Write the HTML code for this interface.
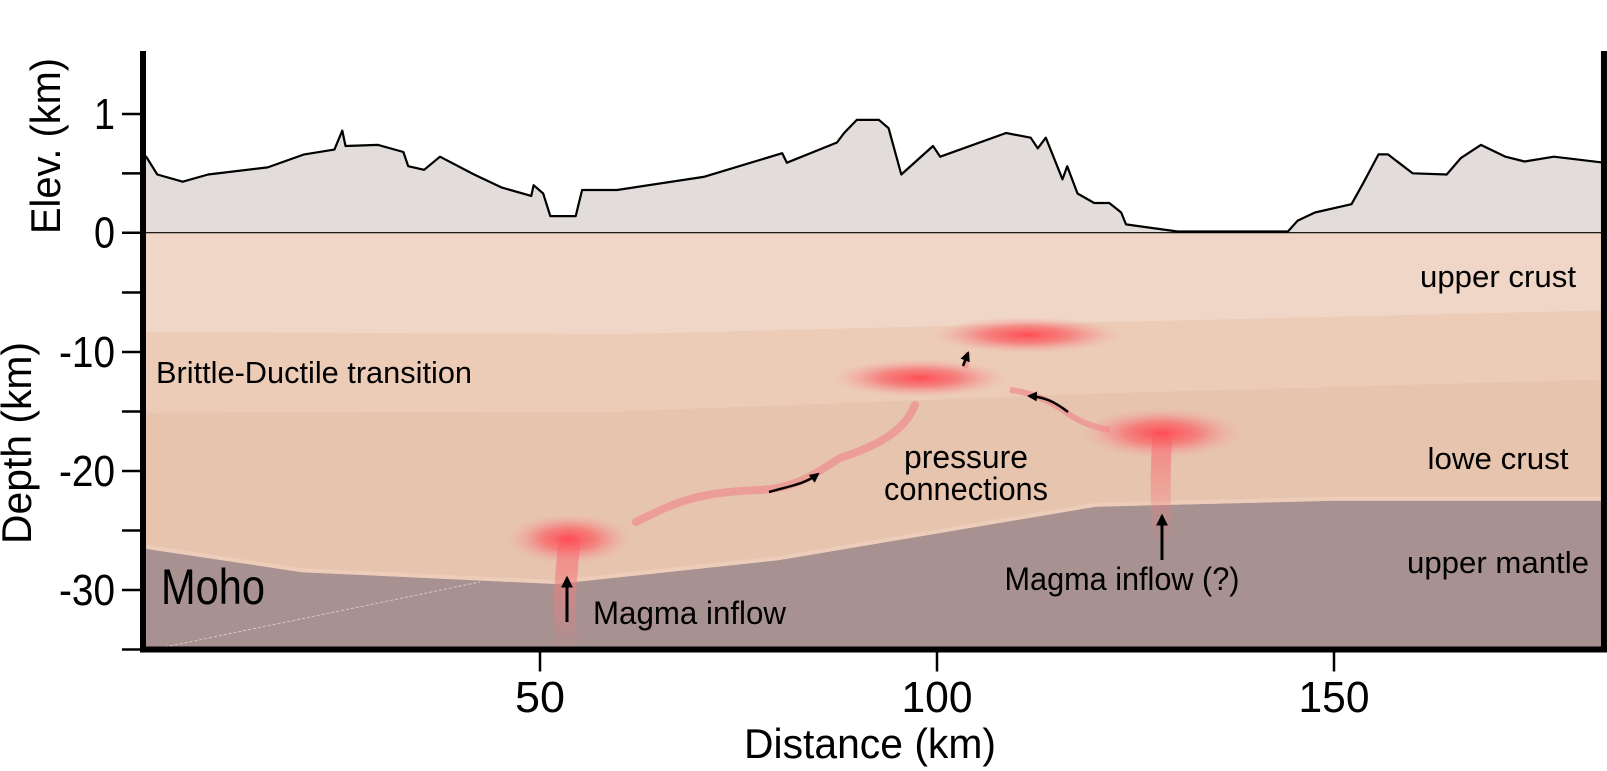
<!DOCTYPE html>
<html><head><meta charset="utf-8">
<style>
html,body{margin:0;padding:0;background:#fff;width:1607px;height:771px;overflow:hidden}
svg text{font-family:"Liberation Sans Narrow","Liberation Sans",sans-serif;fill:#000}
</style></head>
<body>
<svg id="chart" width="1607" height="771" viewBox="0 0 1607 771" xmlns="http://www.w3.org/2000/svg">
<defs>
<radialGradient id="blob" cx="50%" cy="50%" r="50%">
<stop offset="0" stop-color="#ff4d55" stop-opacity="1"/>
<stop offset="0.45" stop-color="#f86a6c" stop-opacity="0.75"/>
<stop offset="1" stop-color="#f4a0a0" stop-opacity="0"/>
</radialGradient>
<linearGradient id="stem" x1="0" y1="0" x2="0" y2="1">
<stop offset="0" stop-color="#f47c7c" stop-opacity="0.85"/>
<stop offset="1" stop-color="#f47c7c" stop-opacity="0.1"/>
</linearGradient>
<marker id="ah" viewBox="0 0 10 10" refX="8" refY="5" markerWidth="4" markerHeight="4" orient="auto"><path d="M0,0 L10,5 L0,10 z" fill="#000"/></marker>
</defs>
<g id="layers"></g>
<g id="elev"></g>
<g id="features"></g>
<g id="axes"></g>
</svg>
<script>
// Data
const distTicks = [50, 100, 150];
const elevTicks = [1, 0.5, 0];
const elevTickLabels = ["1", "", "0"];
const depthTicks = [-5, -10, -15, -20, -25, -30, -35];
const depthTickLabels = ["", "-10", "", "-20", "", "-30", ""];
const elevKm = [0,0.4,1.8,5.0,8.2,15.7,20.3,24.1,25.1,25.5,29.6,32.8,33.4,35.4,37.4,41.7,45.2,48.9,49.2,50.4,51.3,54.5,55.3,59.7,70.6,80.5,81.1,87.4,88.3,89.9,92.7,93.9,95.5,99.5,100.4,108.7,111.8,112.7,113.7,115.8,116.4,117.7,119.8,121.7,123.2,123.8,130.3,144.2,145.4,147.6,152.2,153.7,155.6,156.8,159.9,164.2,166.0,168.5,171.6,174.0,177.7,184];
const elevVal = [0.60,0.64,0.49,0.43,0.49,0.55,0.66,0.70,0.86,0.73,0.74,0.68,0.56,0.53,0.64,0.49,0.38,0.31,0.40,0.33,0.14,0.14,0.36,0.36,0.47,0.67,0.59,0.76,0.84,0.95,0.95,0.88,0.49,0.73,0.64,0.84,0.80,0.71,0.80,0.45,0.56,0.33,0.25,0.25,0.17,0.07,0.01,0.01,0.10,0.17,0.24,0.42,0.66,0.66,0.50,0.49,0.63,0.74,0.64,0.60,0.64,0.59];
const boundKm = [0, 60, 120, 184];
const upperCrustBase = [-8.3, -8.5, -7.5, -6.5];
const bdtBase = [-15.1, -15.0, -13.5, -12.3];
const mohoKm = [0, 20, 52, 80, 120, 150, 184];
const mohoDepth = [-26.5, -28.5, -29.5, -27.5, -23.0, -22.5, -22.5];

const NS = "http://www.w3.org/2000/svg";
const X0 = 143, XS = 7.94;
const x = km => X0 + XS * km;
const ye = e => 232.7 - 118.7 * e;
const yd = d => 233 - 11.9 * d;
const L = x(0), R = x(184), B = yd(-35), T = 51;

function mk(parent, tag, attrs) {
  const el = document.createElementNS(NS, tag);
  for (const k in attrs) el.setAttribute(k, attrs[k]);
  document.getElementById(parent).appendChild(el);
  return el;
}
function smooth(xs, ys) {
  let d = "";
  xs.forEach((v, i) => { d += (i ? " L" : "M") + v.toFixed(1) + "," + ys[i].toFixed(1); });
  return d;
}
// Layers
let el = mk("layers", "rect", {x: L, y: yd(0), width: R - L, height: B - yd(0), fill: "#f0d6c7"});


function band(topArr, fill, name) {
  const xs = boundKm.map(x);
  const d = smooth(xs, topArr.map(yd)) + ` L${R},${B} L${L},${B} Z`;
  const p = mk("layers", "path", {d, fill});
  
  
}
band(upperCrustBase, "#ecccb7", "brittle-ductile-layer");
band(bdtBase, "#e7c4ae", "lower-crust-layer");
{
  const xs = mohoKm.map(x), ys = mohoDepth.map(yd);
  const d = smooth(xs, ys) + ` L${R},${B} L${L},${B} Z`;
  const p = mk("layers", "path", {d, fill: "#a89191"});
  
  
  const ln = mk("layers", "path", {d: smooth(xs, ys.map(v => v - 2)), fill: "none", stroke: "#efd2bf", "stroke-width": 4, opacity: 0.7});
  
  
  const dl = mk("layers", "line", {x1: 160, y1: 648, x2: 480, y2: 582, stroke: "#d8c6c6", "stroke-width": 1, "stroke-dasharray": "3,2"});
  
  
}
// Elevation
{
  const xs = elevKm.map(x), ys = elevVal.map(ye);
  const fillD = smooth(xs, ys) + ` L${R},${ye(0)} L${L},${ye(0)} Z`;
  const f = mk("elev", "path", {d: fillD, fill: "#e2dddb"});
  
  
  const l = mk("elev", "path", {d: smooth(xs, ys), fill: "none", stroke: "#000", "stroke-width": 2.2, "stroke-linejoin": "round"});
  
  
  const z = mk("elev", "line", {x1: L, y1: ye(0), x2: R, y2: ye(0), stroke: "#000", "stroke-width": 1.2});
  
  
}
// Features (magma)
function path(d, attrs, name) {
  const p = mk("features", "path", Object.assign({d, fill: "none"}, attrs));
  
  
}
path("M569,545 C566,580 562,610 567,640", {stroke: "url(#stem)", "stroke-width": 22, "stroke-linecap": "round"}, "magma-stem-left");
path("M1162,440 C1160,480 1160,505 1162,530", {stroke: "url(#stem)", "stroke-width": 20, "stroke-linecap": "round"}, "magma-stem-right");
path("M636,522 C680,500 700,492 760,490 C800,488 820,470 840,458 C880,445 905,430 915,405", {stroke: "#ef9090", "stroke-width": 8, opacity: 0.75, "stroke-linecap": "round"}, "pressure-connection-path");
path("M1010,390 C1030,392 1050,400 1070,415 C1085,425 1100,428 1110,430", {stroke: "#ef9090", "stroke-width": 6, opacity: 0.75}, "pressure-connection-right");
path("M965,368 L968,352", {stroke: "#ef9090", "stroke-width": 6, opacity: 0.7}, "pressure-connection-up");
function blob(cx, cy, rx, ry, name) {
  const e = mk("features", "ellipse", {cx, cy, rx, ry, fill: "url(#blob)"});
  
  
}
blob(569, 539, 62, 25, "magma-chamber-deep");
blob(920, 378, 88, 19, "magma-chamber-mid");
blob(1027, 335, 95, 18, "magma-chamber-shallow");
blob(1162, 433, 80, 25, "magma-chamber-right");
path("M567,622 L567,578", {stroke: "#000", "stroke-width": 3, "marker-end": "url(#ah)"}, "inflow-arrow-left");
path("M1162,560 L1162,516", {stroke: "#000", "stroke-width": 3, "marker-end": "url(#ah)"}, "inflow-arrow-right");
path("M769,492 C790,486 805,484 818,474", {stroke: "#000", "stroke-width": 2.5, "marker-end": "url(#ah)"}, "flow-arrow-1");
path("M1068,412 C1055,402 1045,397 1029,396", {stroke: "#000", "stroke-width": 2.5, "marker-end": "url(#ah)"}, "flow-arrow-2");
path("M963,366 L968,353", {stroke: "#000", "stroke-width": 2.5, "marker-end": "url(#ah)"}, "flow-arrow-3");
// Text labels
function txt(g, s, xx, yy, size, anchor, name, len, extra) {
  const a = Object.assign({x: xx, y: yy, "font-size": size, "text-anchor": anchor || "start"}, extra || {});
  if (len) { a.textLength = len; a.lengthAdjust = "spacingAndGlyphs"; }
  const t = mk(g, "text", a);
  t.textContent = s;
  
  
  return t;
}
txt("features", "upper crust", 1498, 287, 31, "middle", "label-upper-crust", 156);
txt("features", "Brittle-Ductile transition", 156, 383, 31, "start", "label-brittle-ductile", 316);
txt("features", "pressure", 966, 468, 32, "middle", "label-pressure", 124);
txt("features", "connections", 966, 500, 32, "middle", "label-connections", 164);
txt("features", "lowe crust", 1498, 469, 31, "middle", "label-lower-crust", 141);
txt("features", "upper mantle", 1498, 573, 31, "middle", "label-upper-mantle", 182);
txt("features", "Moho", 161, 604, 50, "start", "label-moho", 104);
txt("features", "Magma inflow", 593, 624, 32, "start", "label-magma-inflow", 193);
txt("features", "Magma inflow (?)", 1122, 590, 32, "middle", "label-magma-inflow-uncertain", 235);
// Axes
function line(x1, y1, x2, y2, w, name) {
  const l = mk("axes", "line", {x1, y1, x2, y2, stroke: "#000", "stroke-width": w});
  
  
}
line(L, T, L, B + 3, 6, "left-axis-line");
line(R, T, R, B + 3, 6, "right-axis-line");
line(L - 3, B, R + 3, B, 6, "bottom-axis-line");
const tickW = s => s.replace("-", "").length * 21 + (s.includes("-") ? 14 : 0);
elevTicks.forEach((v, i) => {
  line(122, ye(v), L, ye(v), 2.5, "elev-tick");
  if (elevTickLabels[i]) txt("axes", elevTickLabels[i], 115, ye(v) + 15, 44, "end", "elev-tick-label", tickW(elevTickLabels[i]));
});
depthTicks.forEach((v, i) => {
  line(122, yd(v), L, yd(v), 2.5, "depth-tick");
  if (depthTickLabels[i]) txt("axes", depthTickLabels[i], 115, yd(v) + 15, 44, "end", "depth-tick-label", tickW(depthTickLabels[i]));
});
distTicks.forEach(v => {
  line(x(v), B, x(v), B + 22, 2.5, "distance-tick");
  txt("axes", String(v), x(v), 712, 44, "middle", "distance-tick-label", tickW(String(v)) + 8);
});
txt("axes", "Distance (km)", 870, 758, 42, "middle", "x-axis-title", 252);
txt("axes", "Elev. (km)", 0, 0, 42, "middle", "elev-axis-title", 176, {transform: "translate(60,146) rotate(-90)"});
txt("axes", "Depth (km)", 0, 0, 42, "middle", "depth-axis-title", 202, {transform: "translate(31,443) rotate(-90)"});
</script>
</body></html>
